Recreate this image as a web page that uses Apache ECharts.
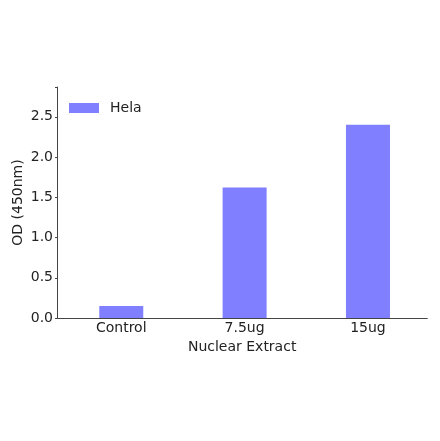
<!DOCTYPE html>
<html>
<head>
<meta charset="utf-8">
<script src="https://cdn.jsdelivr.net/npm/echarts@6/dist/echarts.min.js"></script>
<style>html,body{margin:0;padding:0;background:#fff}#c{width:440px;height:441px}</style>
</head>
<body>
<div id="c"></div>
<script>
const categories = ['Control', '7.5ug', '15ug'];
const helaValues = [0.15, 1.62, 2.40];
const seriesName = 'Hela';
const yTicks = [0, 0.5, 1.0, 1.5, 2.0, 2.5];

const positions = categories.map((c, i) => i);
const chart = echarts.init(document.getElementById('c'), null, {renderer: 'canvas'});
const font = 'DejaVu Sans';
chart.setOption({
  animation: false,
  grid: {left: 57, right: 12.7, top: 87, bottom: 123, containLabel: false},
  legend: {
    data: [seriesName], left: 69, top: 101, itemWidth: 30, itemHeight: 10, padding: 0,
    icon: 'rect',
    textStyle: {fontFamily: font, fontSize: 14, color: '#222', padding: [0, 0, 0, 6]}
  },
  xAxis: {
    type: 'value', min: -0.521, max: 2.481,
    name: 'Nuclear Extract', nameLocation: 'middle', nameGap: 22, nameMoveOverlap: false,
    nameTextStyle: {fontFamily: font, fontSize: 14, color: '#222'},
    axisLine: {onZero: false, lineStyle: {color: '#444', width: 1}},
    axisTick: {show: true, inside: true, length: 2, customValues: positions, lineStyle: {color: '#444'}},
    axisLabel: {fontFamily: font, fontSize: 14, color: '#222', margin: 3, customValues: positions,
      formatter: v => categories[Math.round(v)] || ''},
    splitLine: {show: false}
  },
  yAxis: {
    type: 'value', min: 0, max: 2.87, interval: 0.5,
    name: 'OD (450nm)', nameLocation: 'middle', nameGap: 32, nameRotate: 90, nameMoveOverlap: false,
    nameTextStyle: {fontFamily: font, fontSize: 14, color: '#222'},
    axisLine: {show: true, onZero: false, lineStyle: {color: '#444', width: 1}},
    axisTick: {show: true, length: 2, lineStyle: {color: '#444'}},
    axisLabel: {fontFamily: font, fontSize: 14, color: '#222', margin: 4,
      formatter: v => yTicks.includes(+v.toFixed(2)) ? v.toFixed(1) : ''},
    splitLine: {show: false}
  },
  series: [{
    name: seriesName, type: 'bar', data: helaValues.map((v, i) => [positions[i], v]), barWidth: 44,
    itemStyle: {color: '#7f7fff'}
  }]
});
</script>
</body>
</html>
